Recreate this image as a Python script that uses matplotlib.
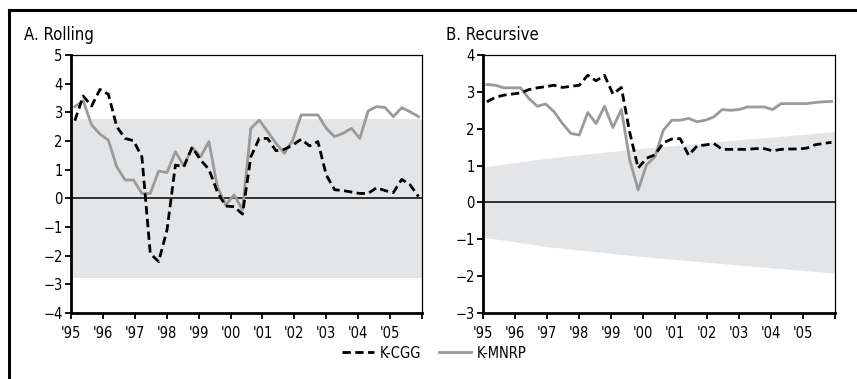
import matplotlib
matplotlib.use("Agg")
import matplotlib.pyplot as plt
import numpy as np

plt.rcParams['font.family'] = ['DejaVu Sans']
plt.rcParams['font.stretch'] = 'condensed'

# 42 observations, roughly quarterly, 1995-2005
n_obs = 42
dates = np.linspace(1995.12, 2005.89, n_obs)

year_ticks = list(range(1995, 2006))
year_labels = ["'95", "'96", "'97", "'98", "'99", "'00", "'01", "'02", "'03", "'04", "'05"]

# panel A: rolling
rolling_cgg = [2.71, 3.57, 3.22, 3.80, 3.63, 2.50, 2.09, 2.01, 1.45, -1.92,
               -2.21, -1.10, 1.16, 1.10, 1.78, 1.34, 1.01, 0.23, -0.27, -0.29,
               -0.55, 1.45, 2.09, 2.09, 1.66, 1.71, 1.86, 2.06, 1.83, 1.98,
               0.81, 0.30, 0.27, 0.22, 0.17, 0.17, 0.37, 0.27, 0.20, 0.66,
               0.47, 0.06]
rolling_mnrp = [3.20, 3.40, 2.56, 2.24, 2.03, 1.10, 0.64, 0.64, 0.17, 0.17,
                0.95, 0.90, 1.63, 1.13, 1.78, 1.45, 1.98, 0.40, -0.23, 0.12,
                -0.40, 2.44, 2.73, 2.33, 1.92, 1.57, 2.03, 2.91, 2.91, 2.91,
                2.44, 2.15, 2.27, 2.44, 2.09, 3.05, 3.20, 3.17, 2.85, 3.16,
                3.02, 2.85]
rolling_band = 2.78

# panel B: recursive
recursive_cgg = [2.73, 2.85, 2.91, 2.94, 2.97, 3.06, 3.11, 3.14, 3.18, 3.12,
                 3.15, 3.18, 3.45, 3.30, 3.45, 2.94, 3.12, 1.90, 0.93, 1.20,
                 1.29, 1.62, 1.72, 1.73, 1.28, 1.53, 1.56, 1.60, 1.44, 1.44,
                 1.44, 1.44, 1.46, 1.46, 1.40, 1.44, 1.45, 1.45, 1.47, 1.56,
                 1.60, 1.63]
recursive_mnrp = [3.20, 3.18, 3.11, 3.11, 3.11, 2.82, 2.61, 2.67, 2.46, 2.14,
                  1.87, 1.83, 2.44, 2.14, 2.61, 2.03, 2.52, 1.15, 0.34, 1.02,
                  1.24, 1.96, 2.23, 2.23, 2.28, 2.19, 2.23, 2.32, 2.52, 2.50,
                  2.52, 2.59, 2.59, 2.59, 2.52, 2.68, 2.68, 2.68, 2.68, 2.71,
                  2.73, 2.74]
band_years = [1995, 1997, 2000, 2003, 2006]
band_upper = [0.96, 1.20, 1.47, 1.70, 1.92]
band_lower = [-0.94, -1.20, -1.47, -1.70, -1.92]

band_col = '#e4e5e7'
grey_col = '#9a9a9a'

fig = plt.figure(figsize=(8.57, 3.79), dpi=100)

# outer frame: top and left rules
fig.add_artist(plt.Line2D([9/857, 1], [1-10/379, 1-10/379], color='black', lw=2.2))
fig.add_artist(plt.Line2D([9/857, 9/857], [0, 1-10/379], color='black', lw=2.2))

axA = fig.add_axes([71/857, 1-313/379, 351/857, 258/379])
axB = fig.add_axes([483/857, 1-313/379, 352/857, 258/379])


def style(ax, ylo, yhi):
    ax.set_xlim(1995, 2006)
    ax.set_ylim(ylo, yhi)
    ax.set_yticks(range(ylo, yhi + 1))
    ax.set_yticklabels([str(v).replace('-', '\u2212') for v in range(ylo, yhi + 1)])
    ax.set_xticks(year_ticks + [2006])
    ax.set_xticklabels(year_labels + [''])
    for s in ['left', 'bottom']:
        ax.spines[s].set_linewidth(2.0)
    for s in ['top', 'right']:
        ax.spines[s].set_linewidth(0.9)
    ax.tick_params(direction='out', length=4, width=1.3, labelsize=10.5, pad=2)
    ax.tick_params(axis='x', pad=5)
    ax.axhline(0, color='black', lw=1.1, zorder=2)


axA.axhspan(-rolling_band, rolling_band, color=band_col, lw=0, zorder=0)
axA.plot(dates, rolling_mnrp, color=grey_col, lw=2.0, zorder=3)
axA.plot(dates, rolling_cgg, color='black', lw=2.0, dashes=(3, 1.6), zorder=4)
style(axA, -4, 5)

axB.fill_between(band_years, band_lower, band_upper, color=band_col, lw=0, zorder=0)
axB.plot(dates, recursive_mnrp, color=grey_col, lw=2.0, zorder=3, label='K-MNRP')
axB.plot(dates, recursive_cgg, color='black', lw=2.0, dashes=(3, 1.6), zorder=4, label='K-CGG')
style(axB, -3, 4)

fig.text(24/857, 1-35/379, 'A. Rolling', fontsize=12, va='center', ha='left')
fig.text(446/857, 1-35/379, 'B. Recursive', fontsize=12, va='center', ha='left')

h, l = axB.get_legend_handles_labels()
fig.legend(h[::-1], l[::-1], loc='center', bbox_to_anchor=(434/857, 1-353/379),
           ncol=2, frameon=False, fontsize=10.5, handlelength=2.2,
           handletextpad=0.4, columnspacing=1.2)

fig.savefig('out.png', dpi=100)
